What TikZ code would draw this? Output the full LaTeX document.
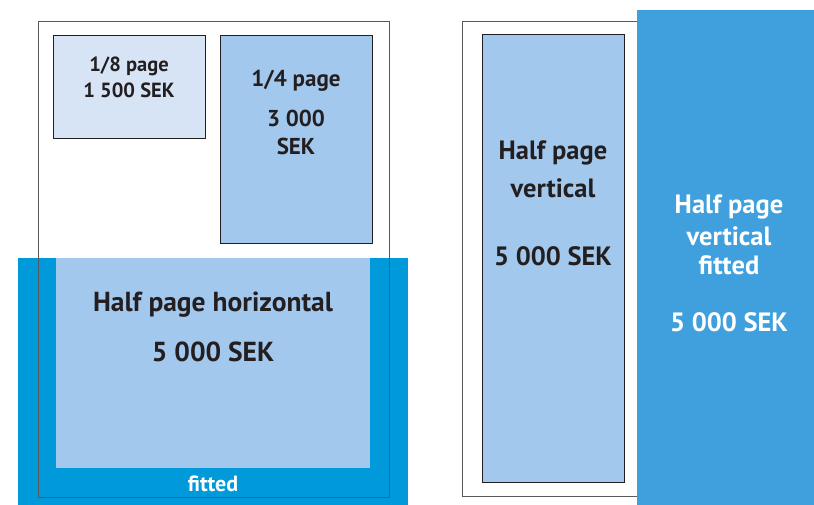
\documentclass[tikz,border=0pt]{standalone}
\usepackage{fontspec}
\setmainfont{PT Sans}
\definecolor{pageline}{HTML}{58595B}
\definecolor{boxline}{HTML}{231F20}
\definecolor{paleblue}{HTML}{D6E4F5}
\definecolor{adblue}{HTML}{A3C8EE}
\definecolor{fitblue}{HTML}{0099D9}
\definecolor{fitvblue}{HTML}{40A0DD}
\tikzset{
  pageframe/.style={draw=pageline, line width=1pt},
  adbox/.style={draw=boxline, line width=1pt, fill=adblue},
  adtext/.style={text=boxline, font=\bfseries\fontsize{#1}{#1}\selectfont, inner sep=0pt, align=center},
  fittext/.style={text=white, font=\bfseries\fontsize{#1}{#1}\selectfont, inner sep=0pt, align=center}
}
\begin{document}
\begin{tikzpicture}[x=1pt,y=-1pt]
      \useasboundingbox (0,0) rectangle (814,505);
      % left page
      \fill[fitblue] (18,258) rectangle (408,505);
      \fill[adblue] (56,258) rectangle (370,468);
      \draw[pageframe] (38,22) rectangle (389,497);
      \filldraw[adbox, fill=paleblue] (53,36) rectangle (205,139);
      \filldraw[adbox] (220,36) rectangle (372,244);
      \node[adtext=20.5] (eighth) at (129,66) {1/8 page};
      \node[adtext=20.5] (eighthprice) at (129,90) {1 500 SEK};
      \node[adtext=23] (quarter) at (296,81) {1/4 page};
      \node[adtext=23] (quarterprice) at (296,118) {3 000};
      \node[adtext=23] (quartersek) at (296,146) {SEK};
      \node[adtext=27.5] (horiz) at (213,305) {Half page horizontal};
      \node[adtext=27.5] (horizprice) at (213,352) {5 000 SEK};
      \node[fittext=22] (horizfit) at (213,484) {fitted};
      % right page
      \draw[pageframe] (462,22) rectangle (650,496);
      \filldraw[adbox] (482,35) rectangle (624,482);
      \fill[fitvblue] (637,10) rectangle (814,505);
      \node[adtext=26.5] (vert) at (553,153) {Half page};
      \node[adtext=26.5] (vertword) at (553,188) {vertical};
      \node[adtext=26.5] (vertprice) at (553,256) {5 000 SEK};
      \node[fittext=26.5] (vfit) at (729,207) {Half page};
      \node[fittext=26.5] (vfitword) at (729,236) {vertical};
      \node[fittext=26.5] (vfitted) at (729,265) {fitted};
      \node[fittext=26.5] (vfitprice) at (729,322) {5 000 SEK};
    \end{tikzpicture}
\end{document}
